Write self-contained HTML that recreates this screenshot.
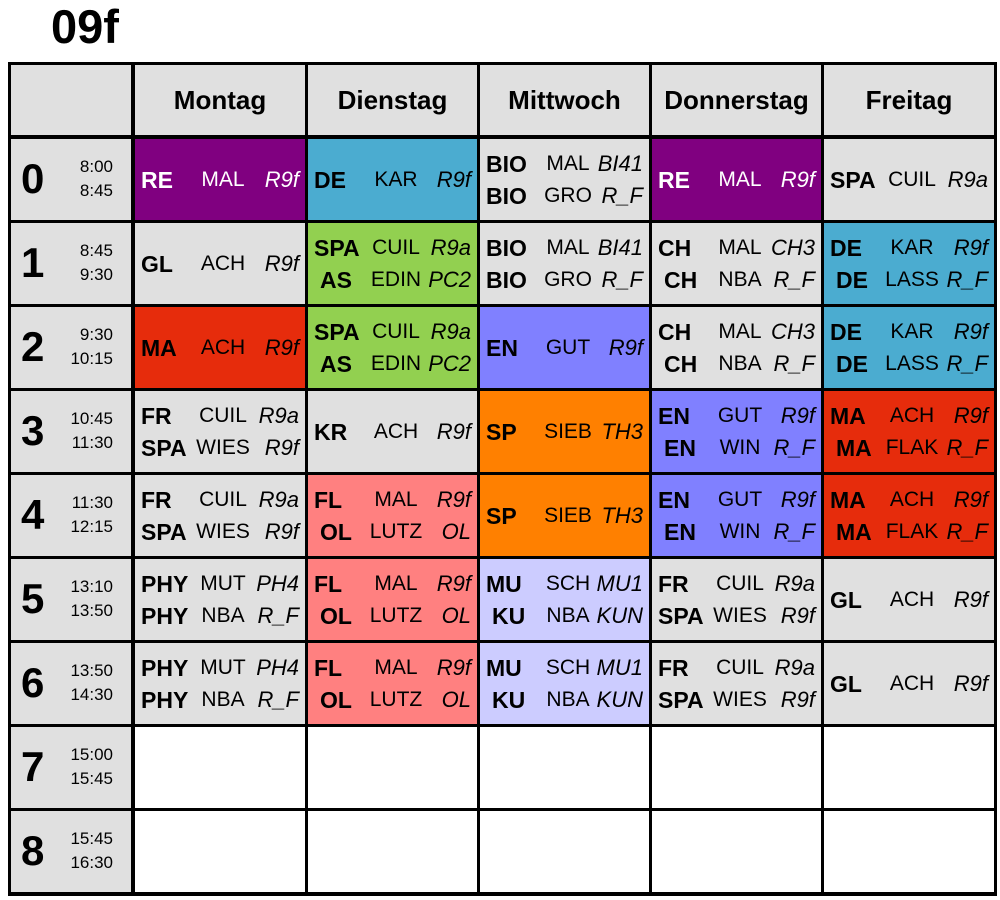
<!DOCTYPE html>
<html><head><meta charset="utf-8"><style>
body{margin:0;width:1000px;height:900px;background:#fff;position:relative;overflow:hidden;font-family:"Liberation Sans",Arial,sans-serif;color:#000}
#t{position:absolute;left:51px;top:1px;font-size:47px;font-weight:bold;line-height:52px}
#g{position:absolute;left:8px;top:62px;width:989px;height:834px;background:#000}
.c{position:absolute;display:flex;flex-direction:column;justify-content:center;background:#e0e0e0}
.l{position:relative;height:32px;font-size:21px;line-height:32px}
.s{position:absolute;left:6px;font-weight:bold;font-size:23px}
.s2{left:12px}
.m{position:absolute;left:88px;transform:translateX(-50%);white-space:nowrap}
.r{position:absolute;right:6px;font-style:italic;font-size:22px}
.h{font-size:26px;font-weight:bold;text-align:center}
.n{position:absolute;left:10px;font-size:42px;font-weight:bold;line-height:44px}
.tm{position:absolute;left:56px;font-size:17px;line-height:24px;text-align:right;width:46px}
.P{background:#800080;color:#fff}.B{background:#4bacd0}.G{background:#92d050}.R{background:#e62c0c}.V{background:#8080ff}.O{background:#ff8000}.K{background:#ff8080}.L{background:#ccccff}.W{background:#fff}
</style></head><body>
<div id="t">09f</div>
<div id="g">
<div class="c" style="left:3px;top:3px;width:120px;height:70px"></div>
<div class="c h" style="left:127px;top:3px;width:170px;height:70px">Montag</div>
<div class="c h" style="left:300px;top:3px;width:169px;height:70px">Dienstag</div>
<div class="c h" style="left:472px;top:3px;width:169px;height:70px">Mittwoch</div>
<div class="c h" style="left:644px;top:3px;width:169px;height:70px">Donnerstag</div>
<div class="c h" style="left:816px;top:3px;width:170px;height:70px">Freitag</div>

<div class="c" style="left:3px;top:77px;width:120px;height:81px"><div class="n" style="top:18px">0</div><div class="tm" style="top:16px">8:00<br>8:45</div></div>
<div class="c" style="left:3px;top:161px;width:120px;height:81px"><div class="n" style="top:18px">1</div><div class="tm" style="top:16px">8:45<br>9:30</div></div>
<div class="c" style="left:3px;top:245px;width:120px;height:81px"><div class="n" style="top:18px">2</div><div class="tm" style="top:16px">9:30<br>10:15</div></div>
<div class="c" style="left:3px;top:329px;width:120px;height:81px"><div class="n" style="top:18px">3</div><div class="tm" style="top:16px">10:45<br>11:30</div></div>
<div class="c" style="left:3px;top:413px;width:120px;height:81px"><div class="n" style="top:18px">4</div><div class="tm" style="top:16px">11:30<br>12:15</div></div>
<div class="c" style="left:3px;top:497px;width:120px;height:81px"><div class="n" style="top:18px">5</div><div class="tm" style="top:16px">13:10<br>13:50</div></div>
<div class="c" style="left:3px;top:581px;width:120px;height:81px"><div class="n" style="top:18px">6</div><div class="tm" style="top:16px">13:50<br>14:30</div></div>
<div class="c" style="left:3px;top:665px;width:120px;height:81px"><div class="n" style="top:18px">7</div><div class="tm" style="top:16px">15:00<br>15:45</div></div>
<div class="c" style="left:3px;top:749px;width:120px;height:81px"><div class="n" style="top:18px">8</div><div class="tm" style="top:16px">15:45<br>16:30</div></div>

<div class="c P" style="left:127px;top:77px;width:170px;height:81px"><div class="l"><span class="s">RE</span><span class="m">MAL</span><span class="r">R9f</span></div></div>
<div class="c B" style="left:300px;top:77px;width:169px;height:81px"><div class="l"><span class="s">DE</span><span class="m">KAR</span><span class="r">R9f</span></div></div>
<div class="c" style="left:472px;top:77px;width:169px;height:81px"><div class="l"><span class="s">BIO</span><span class="m">MAL</span><span class="r">BI41</span></div><div class="l"><span class="s">BIO</span><span class="m">GRO</span><span class="r">R_F</span></div></div>
<div class="c P" style="left:644px;top:77px;width:169px;height:81px"><div class="l"><span class="s">RE</span><span class="m">MAL</span><span class="r">R9f</span></div></div>
<div class="c" style="left:816px;top:77px;width:170px;height:81px"><div class="l"><span class="s">SPA</span><span class="m">CUIL</span><span class="r">R9a</span></div></div>

<div class="c" style="left:127px;top:161px;width:170px;height:81px"><div class="l"><span class="s">GL</span><span class="m">ACH</span><span class="r">R9f</span></div></div>
<div class="c G" style="left:300px;top:161px;width:169px;height:81px"><div class="l"><span class="s">SPA</span><span class="m">CUIL</span><span class="r">R9a</span></div><div class="l"><span class="s s2">AS</span><span class="m">EDIN</span><span class="r">PC2</span></div></div>
<div class="c" style="left:472px;top:161px;width:169px;height:81px"><div class="l"><span class="s">BIO</span><span class="m">MAL</span><span class="r">BI41</span></div><div class="l"><span class="s">BIO</span><span class="m">GRO</span><span class="r">R_F</span></div></div>
<div class="c" style="left:644px;top:161px;width:169px;height:81px"><div class="l"><span class="s">CH</span><span class="m">MAL</span><span class="r">CH3</span></div><div class="l"><span class="s s2">CH</span><span class="m">NBA</span><span class="r">R_F</span></div></div>
<div class="c B" style="left:816px;top:161px;width:170px;height:81px"><div class="l"><span class="s">DE</span><span class="m">KAR</span><span class="r">R9f</span></div><div class="l"><span class="s s2">DE</span><span class="m">LASS</span><span class="r">R_F</span></div></div>

<div class="c R" style="left:127px;top:245px;width:170px;height:81px"><div class="l"><span class="s">MA</span><span class="m">ACH</span><span class="r">R9f</span></div></div>
<div class="c G" style="left:300px;top:245px;width:169px;height:81px"><div class="l"><span class="s">SPA</span><span class="m">CUIL</span><span class="r">R9a</span></div><div class="l"><span class="s s2">AS</span><span class="m">EDIN</span><span class="r">PC2</span></div></div>
<div class="c V" style="left:472px;top:245px;width:169px;height:81px"><div class="l"><span class="s">EN</span><span class="m">GUT</span><span class="r">R9f</span></div></div>
<div class="c" style="left:644px;top:245px;width:169px;height:81px"><div class="l"><span class="s">CH</span><span class="m">MAL</span><span class="r">CH3</span></div><div class="l"><span class="s s2">CH</span><span class="m">NBA</span><span class="r">R_F</span></div></div>
<div class="c B" style="left:816px;top:245px;width:170px;height:81px"><div class="l"><span class="s">DE</span><span class="m">KAR</span><span class="r">R9f</span></div><div class="l"><span class="s s2">DE</span><span class="m">LASS</span><span class="r">R_F</span></div></div>

<div class="c" style="left:127px;top:329px;width:170px;height:81px"><div class="l"><span class="s">FR</span><span class="m">CUIL</span><span class="r">R9a</span></div><div class="l"><span class="s">SPA</span><span class="m">WIES</span><span class="r">R9f</span></div></div>
<div class="c" style="left:300px;top:329px;width:169px;height:81px"><div class="l"><span class="s">KR</span><span class="m">ACH</span><span class="r">R9f</span></div></div>
<div class="c O" style="left:472px;top:329px;width:169px;height:81px"><div class="l"><span class="s">SP</span><span class="m">SIEB</span><span class="r">TH3</span></div></div>
<div class="c V" style="left:644px;top:329px;width:169px;height:81px"><div class="l"><span class="s">EN</span><span class="m">GUT</span><span class="r">R9f</span></div><div class="l"><span class="s s2">EN</span><span class="m">WIN</span><span class="r">R_F</span></div></div>
<div class="c R" style="left:816px;top:329px;width:170px;height:81px"><div class="l"><span class="s">MA</span><span class="m">ACH</span><span class="r">R9f</span></div><div class="l"><span class="s s2">MA</span><span class="m">FLAK</span><span class="r">R_F</span></div></div>

<div class="c" style="left:127px;top:413px;width:170px;height:81px"><div class="l"><span class="s">FR</span><span class="m">CUIL</span><span class="r">R9a</span></div><div class="l"><span class="s">SPA</span><span class="m">WIES</span><span class="r">R9f</span></div></div>
<div class="c K" style="left:300px;top:413px;width:169px;height:81px"><div class="l"><span class="s">FL</span><span class="m">MAL</span><span class="r">R9f</span></div><div class="l"><span class="s s2">OL</span><span class="m">LUTZ</span><span class="r">OL</span></div></div>
<div class="c O" style="left:472px;top:413px;width:169px;height:81px"><div class="l"><span class="s">SP</span><span class="m">SIEB</span><span class="r">TH3</span></div></div>
<div class="c V" style="left:644px;top:413px;width:169px;height:81px"><div class="l"><span class="s">EN</span><span class="m">GUT</span><span class="r">R9f</span></div><div class="l"><span class="s s2">EN</span><span class="m">WIN</span><span class="r">R_F</span></div></div>
<div class="c R" style="left:816px;top:413px;width:170px;height:81px"><div class="l"><span class="s">MA</span><span class="m">ACH</span><span class="r">R9f</span></div><div class="l"><span class="s s2">MA</span><span class="m">FLAK</span><span class="r">R_F</span></div></div>

<div class="c" style="left:127px;top:497px;width:170px;height:81px"><div class="l"><span class="s">PHY</span><span class="m">MUT</span><span class="r">PH4</span></div><div class="l"><span class="s">PHY</span><span class="m">NBA</span><span class="r">R_F</span></div></div>
<div class="c K" style="left:300px;top:497px;width:169px;height:81px"><div class="l"><span class="s">FL</span><span class="m">MAL</span><span class="r">R9f</span></div><div class="l"><span class="s s2">OL</span><span class="m">LUTZ</span><span class="r">OL</span></div></div>
<div class="c L" style="left:472px;top:497px;width:169px;height:81px"><div class="l"><span class="s">MU</span><span class="m">SCH</span><span class="r">MU1</span></div><div class="l"><span class="s s2">KU</span><span class="m">NBA</span><span class="r">KUN</span></div></div>
<div class="c" style="left:644px;top:497px;width:169px;height:81px"><div class="l"><span class="s">FR</span><span class="m">CUIL</span><span class="r">R9a</span></div><div class="l"><span class="s">SPA</span><span class="m">WIES</span><span class="r">R9f</span></div></div>
<div class="c" style="left:816px;top:497px;width:170px;height:81px"><div class="l"><span class="s">GL</span><span class="m">ACH</span><span class="r">R9f</span></div></div>

<div class="c" style="left:127px;top:581px;width:170px;height:81px"><div class="l"><span class="s">PHY</span><span class="m">MUT</span><span class="r">PH4</span></div><div class="l"><span class="s">PHY</span><span class="m">NBA</span><span class="r">R_F</span></div></div>
<div class="c K" style="left:300px;top:581px;width:169px;height:81px"><div class="l"><span class="s">FL</span><span class="m">MAL</span><span class="r">R9f</span></div><div class="l"><span class="s s2">OL</span><span class="m">LUTZ</span><span class="r">OL</span></div></div>
<div class="c L" style="left:472px;top:581px;width:169px;height:81px"><div class="l"><span class="s">MU</span><span class="m">SCH</span><span class="r">MU1</span></div><div class="l"><span class="s s2">KU</span><span class="m">NBA</span><span class="r">KUN</span></div></div>
<div class="c" style="left:644px;top:581px;width:169px;height:81px"><div class="l"><span class="s">FR</span><span class="m">CUIL</span><span class="r">R9a</span></div><div class="l"><span class="s">SPA</span><span class="m">WIES</span><span class="r">R9f</span></div></div>
<div class="c" style="left:816px;top:581px;width:170px;height:81px"><div class="l"><span class="s">GL</span><span class="m">ACH</span><span class="r">R9f</span></div></div>

<div class="c W" style="left:127px;top:665px;width:170px;height:81px"></div>
<div class="c W" style="left:300px;top:665px;width:169px;height:81px"></div>
<div class="c W" style="left:472px;top:665px;width:169px;height:81px"></div>
<div class="c W" style="left:644px;top:665px;width:169px;height:81px"></div>
<div class="c W" style="left:816px;top:665px;width:170px;height:81px"></div>
<div class="c W" style="left:127px;top:749px;width:170px;height:81px"></div>
<div class="c W" style="left:300px;top:749px;width:169px;height:81px"></div>
<div class="c W" style="left:472px;top:749px;width:169px;height:81px"></div>
<div class="c W" style="left:644px;top:749px;width:169px;height:81px"></div>
<div class="c W" style="left:816px;top:749px;width:170px;height:81px"></div>
</div>
</body></html>
